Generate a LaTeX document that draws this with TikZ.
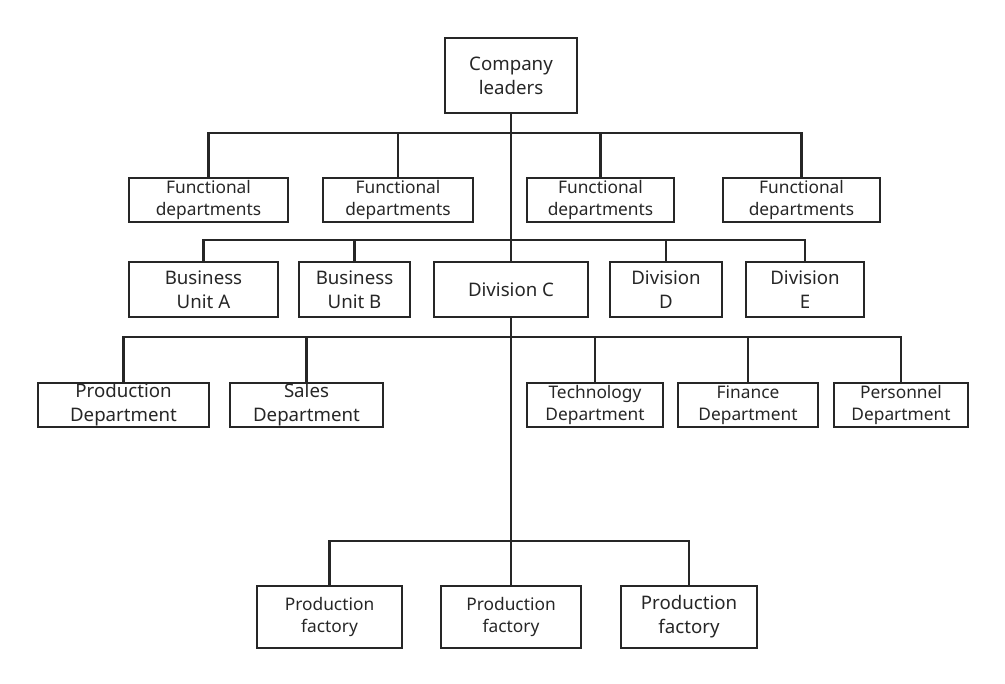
\documentclass[tikz,border=0pt]{standalone}
\usepackage{fontspec}
\setmainfont{Noto Sans}
\begin{document}
\begin{tikzpicture}[x=0.75pt,y=-0.75pt,
  bx/.style={draw=black!85,line width=1.9pt,align=center,inner sep=0pt,text=black!85,font=\fontsize{14}{18}\selectfont},
  sm/.style={font=\fontsize{13}{16.5}\selectfont},
  ln/.style={draw=black!85,line width=1.9pt}]
\useasboundingbox (0,0) rectangle (1005,684);
\node[bx,minimum width=99pt,minimum height=56.25pt] (cl) at (511,75.5) {Company\\leaders};
\foreach \n/\a/\b in {f1/129/288,f2/323/473,f3/527/674,f4/723/880}{
  \node[bx,sm,minimum width={(\b-\a)*0.75pt},minimum height=33pt] (\n) at ({(\a+\b)/2},200) {Functional\\departments};}
\node[bx,minimum width=111.75pt,minimum height=41.25pt] (ba) at (203.5,289.5) {Business\\Unit A};
\node[bx,minimum width=83.25pt,minimum height=41.25pt] (bb) at (354.5,289.5) {Business\\Unit B};
\node[bx,minimum width=115.5pt,minimum height=41.25pt] (dc) at (511,289.5) {Division C};
\node[bx,minimum width=84pt,minimum height=41.25pt] (dd) at (666,289.5) {Division\\D};
\node[bx,minimum width=88.5pt,minimum height=41.25pt] (de) at (805,289.5) {Division\\E};
\node[bx,minimum width=128.25pt,minimum height=33pt] (pd) at (123.5,405) {Production\\Department};
\node[bx,minimum width=114.75pt,minimum height=33pt] (sd) at (306.5,405) {Sales\\Department};
\node[bx,sm,minimum width=102pt,minimum height=33pt] (td) at (595,405) {Technology\\Department};
\node[bx,sm,minimum width=105pt,minimum height=33pt] (fd) at (748,405) {Finance\\Department};
\node[bx,sm,minimum width=100.5pt,minimum height=33pt] (pe) at (901,405) {Personnel\\Department};
\node[bx,sm,minimum width=108.75pt,minimum height=46.5pt] (p1) at (329.5,617) {Production\\factory};
\node[bx,sm,minimum width=105pt,minimum height=46.5pt] (p2) at (511,617) {Production\\factory};
\node[bx,minimum width=102pt,minimum height=46.5pt] (p3) at (689,617) {Production\\factory};
\coordinate (r1) at (511,133);
\coordinate (r2) at (511,240);
\coordinate (r3) at (511,337);
\coordinate (r4) at (511,541);
\draw[ln] (cl.south) -- (r1) -- (r2);
\draw[ln] (r2) -- (dc.north);
\draw[ln] (dc.south) -- (p2.north);
\foreach \n in {f1,f2,f3,f4}{\draw[ln] (r1) -| (\n.north);}
\foreach \n in {ba,bb,dd,de}{\draw[ln] (r2) -| (\n.north);}
\foreach \n in {pd,sd,td,fd,pe}{\draw[ln] (r3) -| (\n.north);}
\foreach \n in {p1,p3}{\draw[ln] (r4) -| (\n.north);}
\end{tikzpicture}
\end{document}
